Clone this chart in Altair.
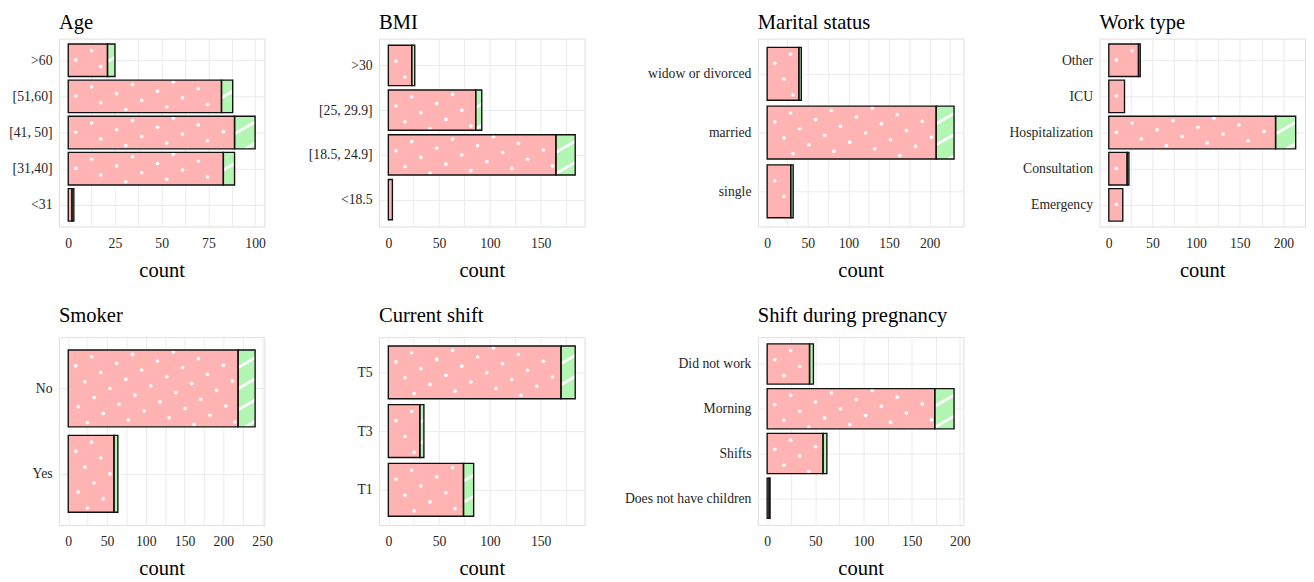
import math
import json
import altair as alt
import pandas as pd

# ---------------- data (bottom category first) ----------------
age_cats = ["<31", "[31,40]", "[41, 50]", "[51,60]", ">60"]
age_pink = [2, 83, 89, 82, 21]
age_green = [1, 6, 11, 6, 4]

bmi_cats = ["<18.5", "[18.5, 24.9]", "[25, 29.9]", ">30"]
bmi_pink = [4, 165, 86, 23]
bmi_green = [0, 19, 6, 3]

marital_cats = ["single", "married", "widow or divorced"]
marital_pink = [29, 208, 39]
marital_green = [3, 22, 3]

work_cats = ["Emergency", "Consultation", "Hospitalization", "ICU", "Other"]
work_pink = [16, 21, 191, 18, 34]
work_green = [0, 2, 23, 0, 2]

smoker_cats = ["Yes", "No"]
smoker_pink = [59, 219]
smoker_green = [5, 22]

shift_cats = ["T1", "T3", "T5"]
shift_pink = [74, 31, 170]
shift_green = [10, 4, 14]

preg_cats = ["Does not have children", "Shifts", "Morning", "Did not work"]
preg_pink = [2, 58, 174, 44]
preg_green = [1, 4, 20, 4]

titles = ["Age", "BMI", "Marital status", "Work type",
          "Smoker", "Current shift", "Shift during pregnancy"]
tick_steps = [25, 50, 50, 50, 50, 50, 50]

# ---------------- styling ----------------
FONT = "Liberation Serif"
PINK = "#FFB3B3"
GREEN = "#B3F5B3"
GRID = "#EBEBEB"
LABEL = "#262626"
W, H = 210, 192
COL_EXTENT = [49, 97, 165, 120]
ROW_TITLE_OFFSET = [6, 11]
BAR_HALF = 0.45


def panel(title, cats, pink, green, step, min_ext, t_off):
    n = len(cats)
    totals = [p + g for p, g in zip(pink, green)]
    mx = max(totals)
    d0, d1 = -0.05 * mx, 1.05 * mx
    y0, y1 = 1 - 0.6, n + 0.6

    def px(v):
        return (v - d0) / (d1 - d0) * W

    def py(v):
        return (y1 - v) / (y1 - y0) * H

    def dx(p):
        return d0 + p / W * (d1 - d0)

    def dy(p):
        return y1 - p / H * (y1 - y0)

    rects, dots, stripes = [], [], []
    s = 18.7
    ang = math.radians(30)
    u = (s * math.cos(ang), -s * math.sin(ang))
    v = (s * math.sin(ang), s * math.cos(ang))
    t = math.tan(ang)
    for i, (c, p, g) in enumerate(zip(cats, pink, green)):
        pos = i + 1
        rects.append(dict(cat=c, seg="pink", x=0, x2=p, y=pos - BAR_HALF, y2=pos + BAR_HALF))
        if g > 0:
            rects.append(dict(cat=c, seg="green", x=p, x2=p + g, y=pos - BAR_HALF, y2=pos + BAR_HALF))
        # dot texture inside pink segment
        xl, xr = px(0), px(p)
        yt, yb = py(pos + BAR_HALF), py(pos - BAR_HALF)
        ox, oy = xl + 7.7, yt + 16.3
        for m in range(-25, 26):
            for k in range(-25, 26):
                qx = ox + m * u[0] + k * v[0]
                qy = oy + m * u[1] + k * v[1]
                if xl + 1.8 <= qx <= xr - 1.8 and yt + 1.8 <= qy <= yb - 1.8:
                    dots.append(dict(x=dx(qx), y=dy(qy)))
        # stripe texture inside green segment
        if g > 0:
            gl, gr = px(p), px(p + g)
            if gr - gl > 4:
                for k in range(-20, 20):
                    cc = yt + 18 + k * 21.6
                    xa = gl + (cc - yb) / t
                    xb = gl + (cc - yt) / t
                    lo, hi = max(gl, xa), min(gr, xb)
                    if hi - lo > 0.5:
                        stripes.append(dict(x=dx(lo), y=dy(cc - t * (lo - gl)),
                                            x2=dx(hi), y2=dy(cc - t * (hi - gl))))

    rect_df = pd.DataFrame(rects)
    dot_df = pd.DataFrame(dots, columns=["x", "y"])
    stripe_df = pd.DataFrame(stripes, columns=["x", "y", "x2", "y2"])

    majors = [k * step for k in range(0, int(mx // step) + 2) if k * step <= d1]
    minors = [k * step + step / 2 for k in range(0, int(mx // step) + 2) if k * step + step / 2 <= d1]
    xvals = sorted(majors + minors)

    xscale = alt.Scale(domain=[d0, d1], nice=False, zero=False)
    yscale = alt.Scale(domain=[y0, y1], nice=False, zero=False)
    xaxis = alt.Axis(
        values=xvals,
        labelExpr=f"datum.value % {step} === 0 ? format(datum.value, 'd') : ''",
        title="count", grid=True, gridColor=GRID, gridWidth=1,
        ticks=False, domain=False, labelFlush=False, labelOverlap=False,
        labelFont=FONT, labelFontSize=14, labelColor=LABEL, labelPadding=10,
        titleFont=FONT, titleFontSize=21, titleFontWeight="normal",
        titleColor="black", titlePadding=10,
    )
    yaxis = alt.Axis(
        values=list(range(1, n + 1)),
        labelExpr=f"{json.dumps(cats)}[round(datum.value) - 1]",
        title=None, grid=True, gridColor=GRID, gridWidth=1,
        ticks=False, domain=False, labelOverlap=False, labelFlush=False,
        labelFont=FONT, labelFontSize=14, labelColor=LABEL, labelPadding=7,
        minExtent=min_ext, labelLimit=300,
    )

    def enc(ch, with2=True):
        e = dict(
            x=alt.X("x:Q", scale=xscale, axis=xaxis),
            y=alt.Y("y:Q", scale=yscale, axis=yaxis),
        )
        if with2:
            e["x2"] = alt.X2("x2:Q")
            e["y2"] = alt.Y2("y2:Q")
        return ch.encode(**e)

    fill = enc(alt.Chart(rect_df).mark_rect(strokeWidth=0)).encode(
        color=alt.Color("seg:N", scale=alt.Scale(domain=["pink", "green"], range=[PINK, GREEN]), legend=None)
    )
    layers = [fill]
    if len(dot_df):
        layers.append(enc(alt.Chart(dot_df).mark_circle(size=14, color="white", opacity=1), with2=False))
    if len(stripe_df):
        layers.append(enc(alt.Chart(stripe_df).mark_rule(color="white", strokeWidth=2.8, strokeCap="butt")))
    layers.append(enc(alt.Chart(rect_df).mark_rect(fillOpacity=0, stroke="#111111", strokeWidth=1.4)))

    return alt.layer(*layers).properties(
        width=W, height=H,
        title=alt.Title(title, anchor="start", frame="group", font=FONT, fontSize=21,
                        fontWeight="normal", color="black", offset=t_off),
    )


specs = [
    (age_cats, age_pink, age_green),
    (bmi_cats, bmi_pink, bmi_green),
    (marital_cats, marital_pink, marital_green),
    (work_cats, work_pink, work_green),
    (smoker_cats, smoker_pink, smoker_green),
    (shift_cats, shift_pink, shift_green),
    (preg_cats, preg_pink, preg_green),
]

charts = []
for idx, ((cats, pk, gr), ttl, st) in enumerate(zip(specs, titles, tick_steps)):
    charts.append(panel(ttl, cats, pk, gr, st, COL_EXTENT[idx % 4], ROW_TITLE_OFFSET[idx // 4]))

chart = alt.concat(
    *charts, columns=4, align="each",
    spacing={"row": 24, "column": 10},
).properties(
    padding={"left": 0, "top": -3, "right": 0, "bottom": 0},
).configure_view(stroke=None).configure(background="white")

chart.save("out.html", embed_options={"renderer": "svg", "actions": False})
